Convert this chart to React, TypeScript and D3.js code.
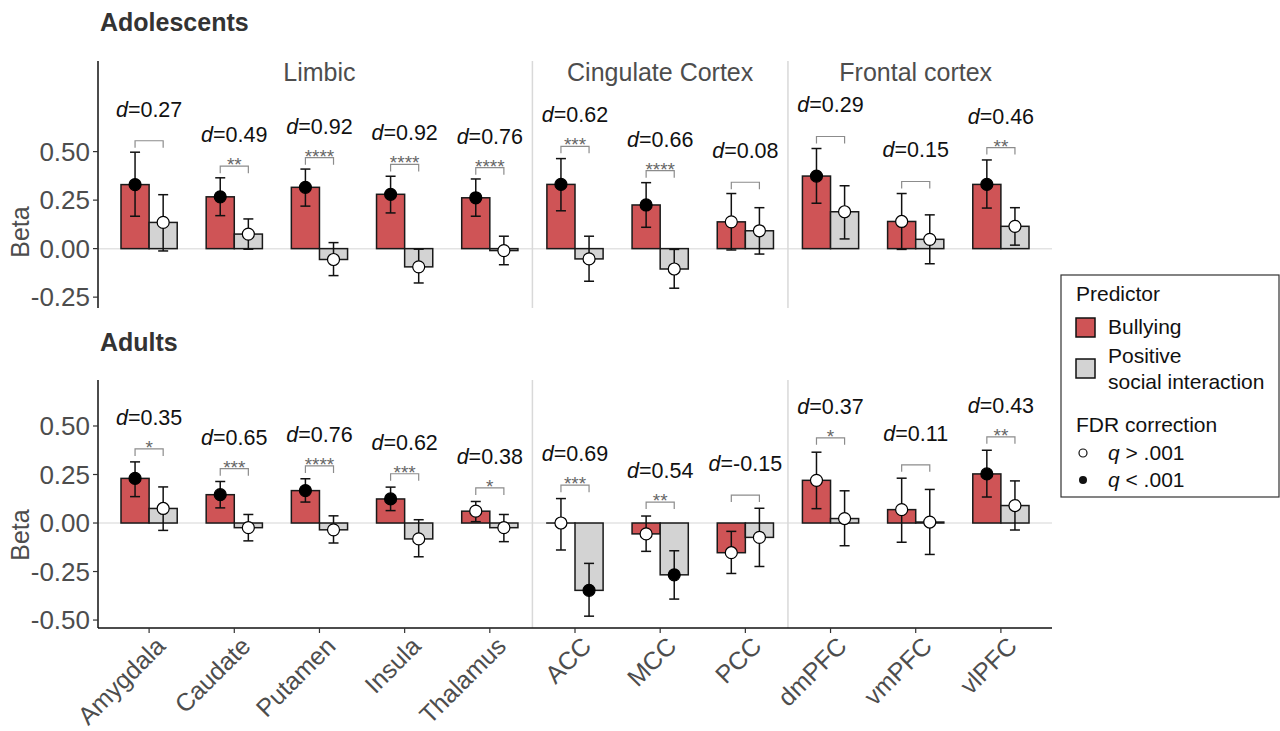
import * as d3 from 'd3';
import React from 'react';

// regions along the x axis and the three region groups
const regions = ['Amygdala', 'Caudate', 'Putamen', 'Insula', 'Thalamus', 'ACC', 'MCC', 'PCC', 'dmPFC', 'vmPFC', 'vlPFC'];
const groupNames = ['Limbic', 'Cingulate Cortex', 'Frontal cortex'];
const groupFirst = [0, 5, 8];
const groupLast = [4, 7, 10];
const yTicksTop = [-0.25, 0, 0.25, 0.5];
const yTicksBottom = [-0.5, -0.25, 0, 0.25, 0.5];

// Adolescents
const adoBully = [0.33, 0.267, 0.316, 0.28, 0.262, 0.331, 0.225, 0.138, 0.374, 0.14, 0.331];
const adoBullyLo = [0.167, 0.17, 0.219, 0.184, 0.167, 0.195, 0.11, -0.007, 0.234, -0.004, 0.209];
const adoBullyHi = [0.497, 0.365, 0.41, 0.373, 0.359, 0.464, 0.34, 0.284, 0.516, 0.284, 0.457];
const adoBullySig = [1, 1, 1, 1, 1, 1, 1, 0, 1, 0, 1];
const adoPsi = [0.135, 0.075, -0.056, -0.094, -0.01, -0.053, -0.105, 0.092, 0.19, 0.048, 0.115];
const adoPsiLo = [-0.012, -0.003, -0.139, -0.177, -0.083, -0.168, -0.204, -0.028, 0.05, -0.078, 0.018];
const adoPsiHi = [0.278, 0.153, 0.031, -0.003, 0.064, 0.064, -0.004, 0.211, 0.324, 0.174, 0.211];
const adoPsiSig = [0, 0, 0, 0, 0, 0, 0, 0, 0, 0, 0];
const adoBracket = [0.556, 0.425, 0.469, 0.434, 0.417, 0.527, 0.402, 0.342, 0.578, 0.346, 0.521];
const adoStars = ['', '**', '****', '****', '****', '***', '****', '', '', '', '**'];
const adoD = ['0.27', '0.49', '0.92', '0.92', '0.76', '0.62', '0.66', '0.08', '0.29', '0.15', '0.46'];

// Adults
const aduBully = [0.23, 0.146, 0.167, 0.124, 0.061, 0.0, -0.056, -0.153, 0.22, 0.069, 0.253];
const aduBullyLo = [0.136, 0.078, 0.108, 0.064, 0.007, -0.139, -0.146, -0.26, 0.074, -0.099, 0.134];
const aduBullyHi = [0.315, 0.214, 0.228, 0.185, 0.111, 0.126, 0.036, -0.043, 0.365, 0.231, 0.375];
const aduBullySig = [1, 1, 1, 1, 0, 0, 0, 0, 0, 0, 1];
const aduPsi = [0.075, -0.024, -0.035, -0.082, -0.024, -0.347, -0.267, -0.074, 0.023, 0.005, 0.09];
const aduPsiLo = [-0.038, -0.092, -0.103, -0.174, -0.096, -0.48, -0.392, -0.224, -0.117, -0.162, -0.036];
const aduPsiHi = [0.186, 0.044, 0.037, 0.017, 0.044, -0.208, -0.143, 0.076, 0.166, 0.173, 0.217];
const aduPsiSig = [0, 0, 0, 0, 0, 1, 1, 0, 0, 0, 0];
const aduBracket = [0.382, 0.28, 0.294, 0.254, 0.181, 0.195, 0.108, 0.144, 0.439, 0.3, 0.444];
const aduStars = ['*', '***', '****', '***', '*', '***', '**', '', '*', '', '**'];
const aduD = ['0.35', '0.65', '0.76', '0.62', '0.38', '0.69', '0.54', '-0.15', '0.37', '0.11', '0.43'];

const RED = '#cf5456';
const GREY = '#d3d3d3';
const TXT = '#4d4d4d';
const FONT = '"Liberation Sans", Arial, Helvetica, sans-serif';

const W = 1280;
const H = 731;
const left = 98;
const right = 1052;

const x = d3.scalePoint<string>().domain(regions).range([left, right]).padding(0.6);
const barW = x.step() * 0.33;

type Series = { v: number[]; lo: number[]; hi: number[]; sig: number[] };

function Panel({ top, bottom, domain, ticks, bully, psi, bracket, stars, dvals, groups, xAxis, title, titleY, betaY }: any) {
  const y = d3.scaleLinear().domain(domain).range([bottom, top]);
  const y0 = y(0);
  const sets: [Series, string, number][] = [[bully, RED, -1], [psi, GREY, 1]];
  return (
    <g>
      <text x={100} y={titleY} fontSize={25} fontWeight="bold" fill="#333" fontFamily={FONT}>{title}</text>
      {/* zero line */}
      <line x1={left} x2={right} y1={y0} y2={y0} stroke="#e3e3e3" strokeWidth={1.5} />
      {/* group separators */}
      {[4, 7].map(i => {
        const sx = (x(regions[i])! + x(regions[i + 1])!) / 2;
        return <line key={i} x1={sx} x2={sx} y1={top} y2={bottom} stroke="#d9d9d9" strokeWidth={1.5} />;
      })}
      {groups && groupNames.map((g, k) => (
        <text key={g} x={(x(regions[groupFirst[k]])! + x(regions[groupLast[k]])!) / 2} y={top + 20}
          textAnchor="middle" fontSize={25} fill={TXT} fontFamily={FONT}>{g}</text>
      ))}
      {/* bars */}
      {regions.map((r, i) => sets.map(([s, col, side]) => {
        const bx = side < 0 ? x(r)! - barW : x(r)!;
        const v = s.v[i];
        return (
          <rect key={r + col} x={bx} y={Math.min(y(v), y0)} width={barW} height={Math.max(Math.abs(y(v) - y0), 0.01)}
            fill={col} stroke="#1a1a1a" strokeWidth={1.5} />
        );
      }))}
      {/* error bars + points */}
      {regions.map((r, i) => sets.map(([s, col, side]) => {
        const cx = x(r)! + side * barW / 2;
        return (
          <g key={r + col + 'e'}>
            <line x1={cx} x2={cx} y1={y(s.lo[i])} y2={y(s.hi[i])} stroke="#111" strokeWidth={1.5} />
            <line x1={cx - 5} x2={cx + 5} y1={y(s.lo[i])} y2={y(s.lo[i])} stroke="#111" strokeWidth={1.5} />
            <line x1={cx - 5} x2={cx + 5} y1={y(s.hi[i])} y2={y(s.hi[i])} stroke="#111" strokeWidth={1.5} />
            <circle cx={cx} cy={y(s.v[i])} r={6} fill={s.sig[i] ? '#000' : '#fff'} stroke="#000" strokeWidth={1.2} />
          </g>
        );
      }))}
      {/* brackets, stars and effect sizes */}
      {regions.map((r, i) => {
        const x1 = x(r)! - barW / 2;
        const x2 = x(r)! + barW / 2;
        const by = y(bracket[i]);
        return (
          <g key={r + 'b'}>
            <path d={`M${x1},${by + 7}V${by}H${x2}V${by + 7}`} fill="none" stroke="#8c8c8c" strokeWidth={1.2} />
            <text x={(x1 + x2) / 2} y={by + 5} textAnchor="middle" fontSize={19} fill="#666" fontFamily={FONT}>{stars[i]}</text>
            <text x={x(r)} y={by - 24} textAnchor="middle" fontSize={21.5} fill="#111" fontFamily={FONT}>
              <tspan fontStyle="italic">d</tspan>={dvals[i]}
            </text>
          </g>
        );
      })}
      {/* y axis */}
      <line x1={left} x2={left} y1={top} y2={bottom} stroke="#111" strokeWidth={1.5} />
      {ticks.map((t: number) => (
        <g key={t}>
          <line x1={left - 5} x2={left} y1={y(t)} y2={y(t)} stroke="#333" strokeWidth={1.2} />
          <text x={left - 8} y={y(t)} dy="0.35em" textAnchor="end" fontSize={26} fill={TXT} fontFamily={FONT}>{t.toFixed(2)}</text>
        </g>
      ))}
      <text transform={`translate(29,${betaY}) rotate(-90)`} textAnchor="middle" fontSize={25} fill={TXT} fontFamily={FONT}>Beta</text>
      {xAxis && (
        <g>
          <line x1={left} x2={right} y1={bottom} y2={bottom} stroke="#111" strokeWidth={1.5} />
          {regions.map(r => (
            <g key={r + 't'}>
              <line x1={x(r)} x2={x(r)} y1={bottom} y2={bottom + 5} stroke="#333" strokeWidth={1.2} />
              <text transform={`translate(${x(r)! + 5},${bottom + 7}) rotate(-45)`} dy="0.72em" textAnchor="end"
                fontSize={25} fill={TXT} fontFamily={FONT}>{r}</text>
            </g>
          ))}
        </g>
      )}
    </g>
  );
}

function Legend() {
  return (
    <g fontFamily={FONT} fill="#111">
      <rect x={1061} y={275} width={218} height={222} fill="#fff" stroke="#333" strokeWidth={1.2} />
      <text x={1076} y={301} fontSize={21}>Predictor</text>
      <rect x={1076} y={318} width={19} height={19} fill={RED} stroke="#111" strokeWidth={1.5} />
      <text x={1108} y={334} fontSize={21}>Bullying</text>
      <rect x={1076} y={359} width={19} height={19} fill={GREY} stroke="#111" strokeWidth={1.5} />
      <text x={1108} y={363} fontSize={21}>Positive</text>
      <text x={1108} y={389} fontSize={21}>social interaction</text>
      <text x={1076} y={432} fontSize={21}>FDR correction</text>
      <circle cx={1083} cy={453} r={4} fill="#fff" stroke="#111" strokeWidth={1.2} />
      <text x={1108} y={460} fontSize={21}><tspan fontStyle="italic">q</tspan> &gt; .001</text>
      <circle cx={1083} cy={480} r={4} fill="#111" />
      <text x={1108} y={487} fontSize={21}><tspan fontStyle="italic">q</tspan> &lt; .001</text>
    </g>
  );
}

export default function App() {
  return (
    <svg width={W} height={H} style={{ display: 'block', position: 'absolute', left: 0, top: 0, background: '#fff' }}>
      <rect width={W} height={H} fill="#fff" />
      <Panel top={61} bottom={308} domain={[-0.306, 0.967]} ticks={yTicksTop}
        bully={{ v: adoBully, lo: adoBullyLo, hi: adoBullyHi, sig: adoBullySig }}
        psi={{ v: adoPsi, lo: adoPsiLo, hi: adoPsiHi, sig: adoPsiSig }}
        bracket={adoBracket} stars={adoStars} dvals={adoD} groups xAxis={false}
        title="Adolescents" titleY={31} betaY={232} />
      <Panel top={380} bottom={628} domain={[-0.541, 0.737]} ticks={yTicksBottom}
        bully={{ v: aduBully, lo: aduBullyLo, hi: aduBullyHi, sig: aduBullySig }}
        psi={{ v: aduPsi, lo: aduPsiLo, hi: aduPsiHi, sig: aduPsiSig }}
        bracket={aduBracket} stars={aduStars} dvals={aduD} groups={false} xAxis
        title="Adults" titleY={351} betaY={535} />
      <Legend />
    </svg>
  );
}
